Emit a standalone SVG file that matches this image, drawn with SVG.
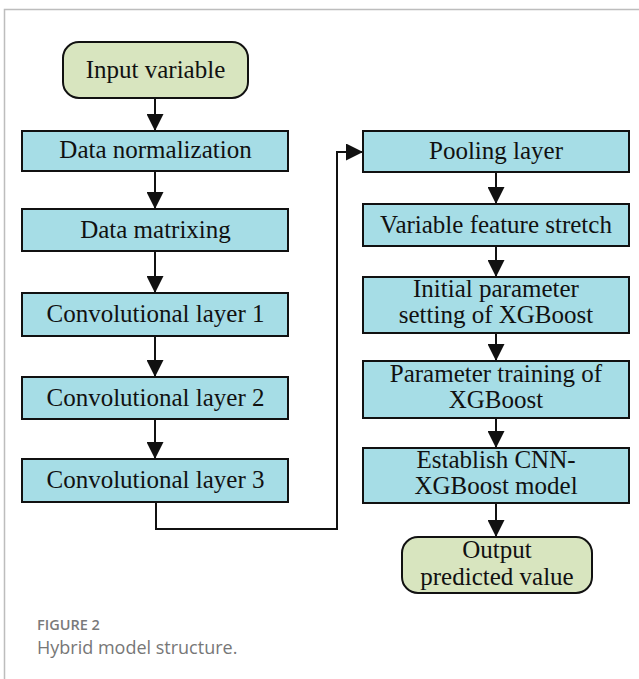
<svg xmlns="http://www.w3.org/2000/svg" width="639" height="679" viewBox="0 0 639 679">
  <style>
    .step { fill: #a6dde6; stroke: #111; stroke-width: 2; }
    .term { fill: #d8e5bf; stroke: #111; stroke-width: 2; }
    .lbl { font-family: "Liberation Serif", "Times New Roman", serif; font-size: 25px; fill: #111; text-anchor: middle; }
    .wire { fill: none; stroke: #111; stroke-width: 2; }
    .cap1 { font-family: "Open Sans", "Liberation Sans", sans-serif; font-size: 14.5px; font-weight: 600; fill: #7a7a7a; }
    .cap2 { font-family: "Open Sans", "Liberation Sans", sans-serif; font-size: 18px; fill: #777; }
  </style>
  <defs>
    <marker id="arrow" markerUnits="userSpaceOnUse" markerWidth="17" markerHeight="17" refX="17" refY="8.5" orient="auto">
      <path d="M0,0 L17,8.5 L0,17 z" fill="#111"/>
    </marker>
  </defs>

  <rect width="639" height="679" fill="#fff"/>
  <!-- page frame -->
  <path d="M4.5,679 V9.5 H639" fill="none" stroke="#bdbdbd" stroke-width="1.5"/>

  <!-- connectors -->
  <g id="connectors">
    <line class="wire" x1="155" y1="98" x2="155" y2="131" marker-end="url(#arrow)"/>
    <line class="wire" x1="155" y1="171" x2="155" y2="209" marker-end="url(#arrow)"/>
    <line class="wire" x1="155" y1="251" x2="155" y2="293" marker-end="url(#arrow)"/>
    <line class="wire" x1="155" y1="336" x2="155" y2="377" marker-end="url(#arrow)"/>
    <line class="wire" x1="155" y1="419" x2="155" y2="459" marker-end="url(#arrow)"/>
    <polyline class="wire" points="156,502 156,529 337,529 337,152 363,152" marker-end="url(#arrow)"/>
    <line class="wire" x1="496" y1="172" x2="496" y2="204" marker-end="url(#arrow)"/>
    <line class="wire" x1="496" y1="246" x2="496" y2="277" marker-end="url(#arrow)"/>
    <line class="wire" x1="496" y1="333" x2="496" y2="361" marker-end="url(#arrow)"/>
    <line class="wire" x1="496" y1="418" x2="496" y2="448" marker-end="url(#arrow)"/>
    <line class="wire" x1="496" y1="503" x2="496" y2="537" marker-end="url(#arrow)"/>
  </g>

  <!-- left column -->
  <g id="input">
    <rect class="term" x="63" y="42" width="185" height="56" rx="16"/>
    <text class="lbl" x="155.5" y="78">Input variable</text>
  </g>
  <g id="normalization">
    <rect class="step" x="22" y="131" width="266" height="40"/>
    <text class="lbl" x="155.5" y="158">Data normalization</text>
  </g>
  <g id="matrixing">
    <rect class="step" x="22" y="209" width="266" height="42"/>
    <text class="lbl" x="155.5" y="238">Data matrixing</text>
  </g>
  <g id="conv1">
    <rect class="step" x="22" y="293" width="266" height="43"/>
    <text class="lbl" x="155.5" y="322">Convolutional layer 1</text>
  </g>
  <g id="conv2">
    <rect class="step" x="22" y="377" width="266" height="42"/>
    <text class="lbl" x="155.5" y="406">Convolutional layer 2</text>
  </g>
  <g id="conv3">
    <rect class="step" x="22" y="459" width="266" height="43"/>
    <text class="lbl" x="155.5" y="488">Convolutional layer 3</text>
  </g>

  <!-- right column -->
  <g id="pooling">
    <rect class="step" x="363" y="131" width="266" height="41"/>
    <text class="lbl" x="496" y="159">Pooling layer</text>
  </g>
  <g id="stretch">
    <rect class="step" x="363" y="204" width="266" height="42"/>
    <text class="lbl" x="496" y="233">Variable feature stretch</text>
  </g>
  <g id="init-params">
    <rect class="step" x="363" y="277" width="266" height="56"/>
    <text class="lbl" x="496" y="297">Initial parameter</text>
    <text class="lbl" x="496" y="323">setting of XGBoost</text>
  </g>
  <g id="training">
    <rect class="step" x="363" y="361" width="266" height="57"/>
    <text class="lbl" x="496" y="382">Parameter training of</text>
    <text class="lbl" x="496" y="408">XGBoost</text>
  </g>
  <g id="establish">
    <rect class="step" x="363" y="448" width="266" height="55"/>
    <text class="lbl" x="496" y="468">Establish CNN-</text>
    <text class="lbl" x="496" y="494">XGBoost model</text>
  </g>
  <g id="output">
    <rect class="term" x="402" y="537" width="190" height="56" rx="16"/>
    <text class="lbl" x="497" y="558">Output</text>
    <text class="lbl" x="497" y="585">predicted value</text>
  </g>

  <!-- caption -->
  <text class="cap1" x="37" y="630">FIGURE 2</text>
  <text class="cap2" x="37" y="654">Hybrid model structure.</text>
</svg>
